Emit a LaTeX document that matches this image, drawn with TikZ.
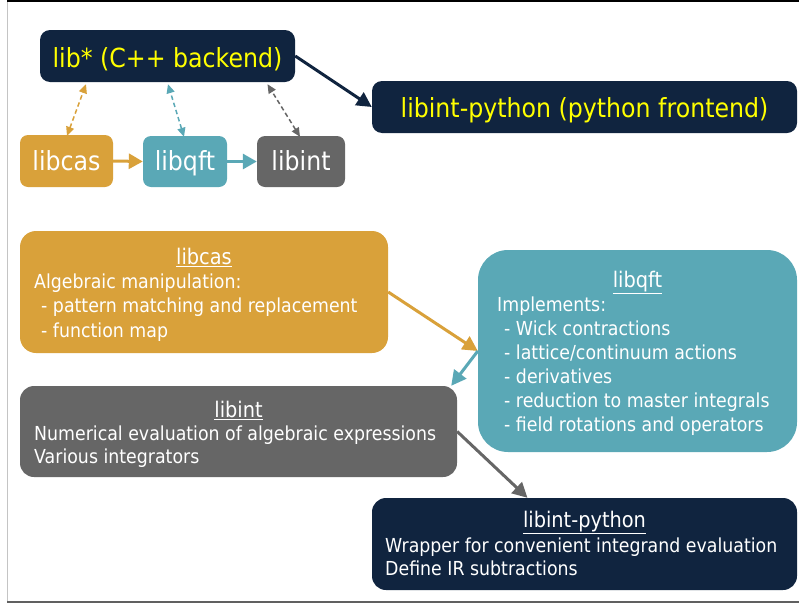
\documentclass[tikz,border=0pt]{standalone}
\usepackage{fontspec}
\setmainfont{DejaVu Sans}[FakeStretch=0.9]
\usetikzlibrary{arrows.meta}
\definecolor{navy}{HTML}{10243F}
\definecolor{ochre}{HTML}{D9A13A}
\definecolor{teal2}{HTML}{5AA8B6}
\definecolor{gray2}{HTML}{666666}
\definecolor{hl}{HTML}{FFFF00}
\definecolor{frameL}{HTML}{C4C4C4}
\definecolor{frameB}{HTML}{606060}
\newcommand{\bigfnt}{\fontsize{26.3}{30}\selectfont}
\newcommand{\bodyfnt}{\fontsize{19.3}{24}\selectfont}
\newcommand{\ttlfnt}{\fontsize{21.5}{24}\selectfont}
\tikzset{
  box/.style={rectangle, rounded corners=#1, inner sep=0pt, text=white, font=\bigfnt},
  txtline/.style={anchor=base west, inner sep=0pt, text=white, font=\bodyfnt},
  ttl/.style={anchor=base, inner sep=0pt, text=white, font=\ttlfnt},
  fat/.style={line width=3pt, -{Triangle[length=15pt,width=15pt]}},
  dsh/.style={line width=1.5pt, dash pattern=on 4.5pt off 3pt, {Triangle[length=9pt,width=8pt]}-{Triangle[length=9pt,width=8pt]}}
}
\begin{document}
\begin{tikzpicture}[x=1pt,y=-1pt]
\useasboundingbox (0,0) rectangle (799,605);
% frame
\draw[frameL, line width=1.2pt] (7.5,0) -- (7.5,601);
\draw[black, line width=1.5pt] (7,0.75) -- (799,0.75);
\draw[frameB, line width=2pt] (7,601.5) -- (799,601.5);

% top row
\node[box=10pt, fill=navy, text=hl, minimum width=255pt, minimum height=52pt, text height=28pt, text depth=6pt] (libstar) at (167.5,56) {lib* (C++ backend)};
\node[box=10pt, fill=navy, text=hl, minimum width=425pt, minimum height=52pt, text height=26pt, text depth=6pt] (pyfront) at (584.5,107) {libint-python (python frontend)};
\node[box=8pt, fill=ochre, minimum width=93pt, minimum height=52pt, text height=24pt, text depth=6pt] (casS) at (66.5,161) {libcas};
\node[box=8pt, fill=teal2, minimum width=84pt, minimum height=51pt, text height=24pt, text depth=6pt] (qftS) at (185,161.5) {libqft};
\node[box=8pt, fill=gray2, minimum width=88pt, minimum height=51pt, text height=24pt, text depth=6pt] (intS) at (301,161.5) {libint};

\draw[navy, fat] (libstar.east) -- (pyfront.west);
\draw[ochre, line width=3pt, -{Triangle[length=14pt,width=15pt]}] (casS.east) -- (qftS.west);
\draw[teal2, line width=3pt, -{Triangle[length=14pt,width=15pt]}] (qftS.east) -- (intS.west);
\draw[ochre, dsh] ([xshift=0.5pt,yshift=-1pt]casS.north) -- ([xshift=-81.5pt,yshift=-2pt]libstar.south);
\draw[teal2, dsh] ([xshift=-1pt,yshift=-1pt]qftS.north) -- ([xshift=0.5pt,yshift=-2pt]libstar.south);
\draw[gray2, dsh] ([xshift=-1pt,yshift=-1pt]intS.north) -- ([xshift=100pt,yshift=-2pt]libstar.south);

% big boxes
\node[box=16pt, fill=ochre, minimum width=368pt, minimum height=122pt] (casB) at (204,292) {};
\node[box=30pt, fill=teal2, minimum width=319pt, minimum height=202pt] (qftB) at (637.5,351) {};
\node[box=14pt, fill=gray2, minimum width=437pt, minimum height=91pt] (intB) at (238.5,431.5) {};
\node[box=14pt, fill=navy, minimum width=425pt, minimum height=92pt] (pyB) at (584.5,544) {};

% libcas text
\node[ttl] (casT) at (204,264) {\underline{libcas}};
\node[txtline] (cas1) at (34,288) {Algebraic manipulation:};
\node[txtline] (cas2) at (41,312.5) {- pattern matching and replacement};
\node[txtline] (cas3) at (41,337) {- function map};

% libqft text
\node[ttl] (qftT) at (637.5,287) {\underline{libqft}};
\node[txtline] (qft1) at (497,311) {Implements:};
\node[txtline] (qft2) at (504,335) {- Wick contractions};
\node[txtline] (qft3) at (504,359) {- lattice/continuum actions};
\node[txtline] (qft4) at (504,383) {- derivatives};
\node[txtline] (qft5) at (504,407) {- reduction to master integrals};
\node[txtline] (qft6) at (504,431) {- field rotations and operators};

% libint text
\node[ttl] (intT) at (238.5,417) {\underline{libint}};
\node[txtline] (int1) at (34,440) {Numerical evaluation of algebraic expressions};
\node[txtline] (int2) at (34,463) {Various integrators};

% libint-python text
\node[ttl] (pyT) at (584.5,527) {\underline{libint-python}};
\node[txtline] (py1) at (385,552) {Wrapper for convenient integrand evaluation};
\node[txtline] (py2) at (385,575) {Define IR subtractions};

% big arrows
\draw[ochre, fat] (casB.east) -- (qftB.west);
\draw[teal2, fat] (qftB.west) -- ([xshift=-6pt]intB.north east);
\draw[gray2, fat] (intB.east) -- ([xshift=-57pt]pyB.north);
\end{tikzpicture}
\end{document}
